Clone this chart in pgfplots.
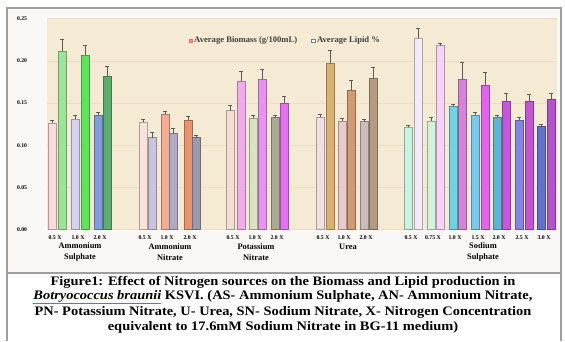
\documentclass[border=0pt]{standalone}
\usepackage{pgfplots}
\pgfplotsset{compat=1.18}
\usepackage{fontspec}
\setmainfont{Liberation Serif}
\newcommand{\redul}[1]{{\color{red!75}\underline{\textcolor{black}{#1}}}}
\definecolor{plotbg}{HTML}{F5EAD3}
\definecolor{chartbg}{HTML}{F9F8F6}
\definecolor{gridc}{HTML}{EADCC0}
% Ammonium Sulphate
\definecolor{asbA}{HTML}{F8DADA}\definecolor{aslA}{HTML}{9EE39A}
\definecolor{asbB}{HTML}{D6D2F0}\definecolor{aslB}{HTML}{5FE35C}
\definecolor{asbC}{HTML}{7E9FDA}\definecolor{aslC}{HTML}{5DAE6E}
% Ammonium Nitrate
\definecolor{anbA}{HTML}{F8E2DA}\definecolor{anlA}{HTML}{CCC4DC}
\definecolor{anbB}{HTML}{F5AC94}\definecolor{anlB}{HTML}{B2AAC4}
\definecolor{anbC}{HTML}{E8946E}\definecolor{anlC}{HTML}{9C9AAC}
% Potassium Nitrate
\definecolor{pnbA}{HTML}{F6DDD2}\definecolor{pnlA}{HTML}{F2ACEC}
\definecolor{pnbB}{HTML}{DCE2C4}\definecolor{pnlB}{HTML}{E892F2}
\definecolor{pnbC}{HTML}{ABAA92}\definecolor{pnlC}{HTML}{E272F2}
% Urea
\definecolor{ubA}{HTML}{F4DDE0}\definecolor{ulA}{HTML}{D9B274}
\definecolor{ubB}{HTML}{EACACA}\definecolor{ulB}{HTML}{D29A72}
\definecolor{ubC}{HTML}{CBBBBB}\definecolor{ulC}{HTML}{B39B84}
% Sodium Sulphate
\definecolor{sbA}{HTML}{C8F2E2}\definecolor{slA}{HTML}{F2EAF8}
\definecolor{sbB}{HTML}{D2F2DA}\definecolor{slB}{HTML}{F8D2F8}
\definecolor{sbC}{HTML}{72D2E2}\definecolor{slC}{HTML}{D484D6}
\definecolor{sbD}{HTML}{7ACAEA}\definecolor{slD}{HTML}{E264EA}
\definecolor{sbE}{HTML}{62B2D2}\definecolor{slE}{HTML}{C656DA}
\definecolor{sbF}{HTML}{8484E2}\definecolor{slF}{HTML}{C454D2}
\definecolor{sbG}{HTML}{6272CA}\definecolor{slG}{HTML}{B454CA}
\newcommand{\mybar}[4]{\addplot[forget plot, ybar, bar width=7.5, bar shift=0pt, fill=#4, draw=#4!70!black, line width=0.3pt,
  error bars/.cd, y dir=plus, y explicit, error bar style={black!65, line width=0.4pt},
  error mark options={rotate=90, mark size=1.6pt, black!65, line width=0.4pt}]
  coordinates {(#1,#2) +- (0,#3)};}
\begin{document}
\begin{tikzpicture}[x=1pt,y=1pt]
\useasboundingbox (0,0) rectangle (565,341);
\fill[white] (0,0) rectangle (565,341);
\fill[chartbg] (7,68) rectangle (561,333);
\draw[gray!75, line width=1.3pt] (7,0) -- (7,333) -- (561,333) -- (561,0);
\draw[gray!75, line width=1.3pt] (7,68) -- (561,68);
\begin{axis}[
  at={(47,132)}, anchor=south west,
  width=510pt, height=211pt, scale only axis,
  xmin=47, xmax=557, ymin=0, ymax=0.25,
  axis background/.style={fill=plotbg},
  axis line style={draw=none},
  major tick length=0pt,
  ytick={0,0.05,0.10,0.15,0.20,0.25},
  ymajorgrids, grid style={gridc, line width=0.4pt},
  yticklabel style={anchor=center, xshift=-25pt, font=\bfseries\fontsize{5.7}{6}\selectfont,
    /pgf/number format/.cd, fixed, fixed zerofill, precision=2, assume math mode=true},
  xtick={55,78,100,145,167,190,233,255,277,323,344,366,411,433,455,478,499,522,544},
  xticklabels={0.5 X,1.0 X,2.0 X,0.5 X,1.0 X,2.0 X,0.5 X,1.0 X,2.0 X,0.5 X,1.0 X,2.0 X,0.5 X,0.75 X,1.0 X,1.5 X,2.0 X,2.5 X,3.0 X},
  xticklabel style={anchor=center, yshift=-8pt, font=\bfseries\fontsize{5.8}{6}\selectfont},
  legend style={at={(axis cs:186,0.224)}, anchor=west, draw=none, fill=none,
    font=\bfseries\fontsize{8.6}{9}\selectfont, text=black!75, legend columns=2,
    /tikz/every even column/.append style={column sep=12pt}},
  legend cell align=left,
  clip=false,
]
\addlegendimage{legend image code/.code={\draw[fill=red!45, draw=red!60] (1pt,-1.3pt) rectangle (3.6pt,1.3pt);}}
\addlegendentry{Average Biomass (g/100mL)}
\addlegendimage{legend image code/.code={\draw[fill=white, draw=gray] (0.5pt,-1.8pt) rectangle (4pt,1.8pt);}}
\addlegendentry{Average Lipid \%}
% Ammonium Sulphate
\mybar{52}{0.126}{0.004}{asbA}\mybar{62}{0.212}{0.014}{aslA}
\mybar{75}{0.131}{0.004}{asbB}\mybar{85}{0.207}{0.011}{aslB}
\mybar{98}{0.136}{0.003}{asbC}\mybar{107}{0.182}{0.012}{aslC}
% Ammonium Nitrate
\mybar{143}{0.127}{0.004}{anbA}\mybar{152}{0.109}{0.006}{anlA}
\mybar{165}{0.137}{0.003}{anbB}\mybar{173}{0.114}{0.006}{anlB}
\mybar{188}{0.130}{0.004}{anbC}\mybar{196}{0.109}{0.003}{anlC}
% Potassium Nitrate
\mybar{230}{0.141}{0.006}{pnbA}\mybar{241}{0.176}{0.012}{pnlA}
\mybar{253}{0.132}{0.004}{pnbB}\mybar{262}{0.178}{0.012}{pnlB}
\mybar{275}{0.133}{0.003}{pnbC}\mybar{284}{0.150}{0.008}{pnlC}
% Urea
\mybar{320}{0.133}{0.004}{ubA}\mybar{330}{0.197}{0.016}{ulA}
\mybar{342}{0.129}{0.003}{ubB}\mybar{351}{0.165}{0.012}{ulB}
\mybar{364}{0.128}{0.003}{ubC}\mybar{373}{0.180}{0.013}{ulC}
% Sodium Sulphate
\mybar{408}{0.121}{0.003}{sbA}\mybar{418}{0.227}{0.012}{slA}
\mybar{431}{0.129}{0.004}{sbB}\mybar{440}{0.218}{0.003}{slB}
\mybar{453}{0.146}{0.003}{sbC}\mybar{462}{0.178}{0.020}{slC}
\mybar{475}{0.136}{0.003}{sbD}\mybar{485}{0.171}{0.016}{slD}
\mybar{497}{0.133}{0.003}{sbE}\mybar{506}{0.152}{0.010}{slE}
\mybar{519}{0.130}{0.003}{sbF}\mybar{529}{0.152}{0.009}{slF}
\mybar{541}{0.122}{0.003}{sbG}\mybar{551}{0.154}{0.008}{slG}
\begin{scope}[every node/.style={align=center, font=\bfseries\fontsize{8.4}{10.5}\selectfont}]
\node[yshift=-22.5pt] at (axis cs:80,0) {Ammonium\\Sulphate};
\node[yshift=-22.5pt] at (axis cs:170,0) {Ammonium\\Nitrate};
\node[yshift=-22.5pt] at (axis cs:256,0) {Potassium\\Nitrate};
\node[yshift=-17pt] at (axis cs:348,0) {Urea};
\node[yshift=-22.5pt] at (axis cs:483,0) {Sodium\\Sulphate};
\end{scope}
\end{axis}
\begin{scope}[every node/.style={font=\bfseries\fontsize{13}{15}\selectfont, xscale=1.11}]
\node at (283,59) {Figure1: Effect of Nitrogen sources on the Biomass and Lipid production in};
\node at (283,44) {\redul{\textit{Botryococcus braunii}} KSVI. (AS- Ammonium Sulphate, AN- Ammonium Nitrate,};
\node at (283,29) {PN- Potassium Nitrate, U- Urea, SN- Sodium Nitrate, X- Nitrogen Concentration};
\node at (283,14) {equivalent to 17.6mM Sodium Nitrate in BG-11 medium)};
\end{scope}
\end{tikzpicture}
\end{document}
